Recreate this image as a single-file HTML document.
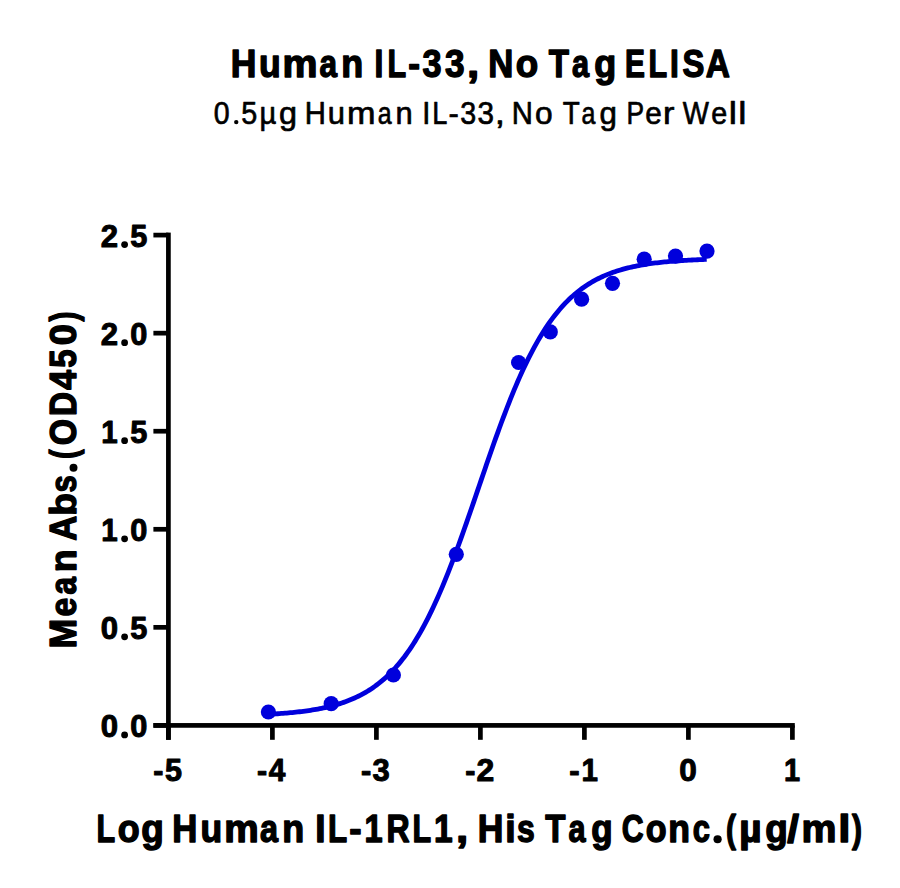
<!DOCTYPE html>
<html><head><meta charset="utf-8"><style>
html,body{margin:0;padding:0;background:#fff;}
svg{display:block;}
text{font-family:"Liberation Sans",sans-serif;fill:#000;}
.b{font-weight:bold;stroke:#000;stroke-linejoin:round;}
.r{stroke:#000;stroke-linejoin:round;}
</style></head><body>
<svg width="900" height="888" viewBox="0 0 900 888">
<rect width="900" height="888" fill="#fff"/>
<text x="230.81" y="77" font-size="38.3" stroke-width="1.4" textLength="25.68" lengthAdjust="spacingAndGlyphs" class="b">H</text>
<text x="258.94" y="77" font-size="38.3" stroke-width="1.4" textLength="21.69" lengthAdjust="spacingAndGlyphs" class="b">u</text>
<text x="282.64" y="77" font-size="38.3" stroke-width="1.4" textLength="35.0" lengthAdjust="spacingAndGlyphs" class="b">m</text>
<text x="319.61" y="77" font-size="38.3" stroke-width="1.4" textLength="17.52" lengthAdjust="spacingAndGlyphs" class="b">a</text>
<text x="341.3" y="77" font-size="38.3" stroke-width="1.4" textLength="21.96" lengthAdjust="spacingAndGlyphs" class="b">n</text>
<text x="374.49" y="77" font-size="38.3" stroke-width="1.4" textLength="8.81" lengthAdjust="spacingAndGlyphs" class="b">I</text>
<text x="387.55" y="77" font-size="38.3" stroke-width="1.4" textLength="18.67" lengthAdjust="spacingAndGlyphs" class="b">L</text>
<text x="408.29" y="77" font-size="38.3" stroke-width="1.4" textLength="11.79" lengthAdjust="spacingAndGlyphs" class="b">-</text>
<text x="422.53" y="77" font-size="38.3" stroke-width="1.4" textLength="19.05" lengthAdjust="spacingAndGlyphs" class="b">3</text>
<text x="445.03" y="77" font-size="38.3" stroke-width="1.4" textLength="19.56" lengthAdjust="spacingAndGlyphs" class="b">3</text>
<text x="466.95" y="77" font-size="38.3" stroke-width="1.4" textLength="12.24" lengthAdjust="spacingAndGlyphs" class="b">,</text>
<text x="488.35" y="77" font-size="38.3" stroke-width="1.4" textLength="25.11" lengthAdjust="spacingAndGlyphs" class="b">N</text>
<text x="515.74" y="77" font-size="38.3" stroke-width="1.4" textLength="22.47" lengthAdjust="spacingAndGlyphs" class="b">o</text>
<text x="548.72" y="77" font-size="38.3" stroke-width="1.4" textLength="20.23" lengthAdjust="spacingAndGlyphs" class="b">T</text>
<text x="572.12" y="77" font-size="38.3" stroke-width="1.4" textLength="17.04" lengthAdjust="spacingAndGlyphs" class="b">a</text>
<text x="594.22" y="77" font-size="38.3" stroke-width="1.4" textLength="21.96" lengthAdjust="spacingAndGlyphs" class="b">g</text>
<text x="625.01" y="77" font-size="38.3" stroke-width="1.4" textLength="19.93" lengthAdjust="spacingAndGlyphs" class="b">E</text>
<text x="648.55" y="77" font-size="38.3" stroke-width="1.4" textLength="18.67" lengthAdjust="spacingAndGlyphs" class="b">L</text>
<text x="669.99" y="77" font-size="38.3" stroke-width="1.4" textLength="8.81" lengthAdjust="spacingAndGlyphs" class="b">I</text>
<text x="682.55" y="77" font-size="38.3" stroke-width="1.4" textLength="21.87" lengthAdjust="spacingAndGlyphs" class="b">S</text>
<text x="705.63" y="77" font-size="38.3" stroke-width="1.4" textLength="24.17" lengthAdjust="spacingAndGlyphs" class="b">A</text>
<text x="213.76" y="124" font-size="32" stroke-width="0.7" textLength="15.84" lengthAdjust="spacingAndGlyphs" class="r">0</text>
<text x="241.16" y="124" font-size="32" stroke-width="0.7" textLength="15.99" lengthAdjust="spacingAndGlyphs" class="r">5</text>
<text x="259.38" y="124" font-size="32" stroke-width="0.7" textLength="16.81" lengthAdjust="spacingAndGlyphs" class="r">µ</text>
<text x="279.09" y="124" font-size="32" stroke-width="0.7" textLength="17.98" lengthAdjust="spacingAndGlyphs" class="r">g</text>
<text x="304.7" y="124" font-size="32" stroke-width="0.7" textLength="21.12" lengthAdjust="spacingAndGlyphs" class="r">H</text>
<text x="327.87" y="124" font-size="32" stroke-width="0.7" textLength="17.21" lengthAdjust="spacingAndGlyphs" class="r">u</text>
<text x="347.13" y="124" font-size="32" stroke-width="0.7" textLength="28.51" lengthAdjust="spacingAndGlyphs" class="r">m</text>
<text x="377.76" y="124" font-size="32" stroke-width="0.7" textLength="13.88" lengthAdjust="spacingAndGlyphs" class="r">a</text>
<text x="395.51" y="124" font-size="32" stroke-width="0.7" textLength="17.19" lengthAdjust="spacingAndGlyphs" class="r">n</text>
<text x="422.13" y="124" font-size="32" stroke-width="0.7" textLength="8.13" lengthAdjust="spacingAndGlyphs" class="r">I</text>
<text x="432.33" y="124" font-size="32" stroke-width="0.7" textLength="15.12" lengthAdjust="spacingAndGlyphs" class="r">L</text>
<text x="448.62" y="124" font-size="32" stroke-width="0.7" textLength="10.31" lengthAdjust="spacingAndGlyphs" class="r">-</text>
<text x="460.34" y="124" font-size="32" stroke-width="0.7" textLength="15.92" lengthAdjust="spacingAndGlyphs" class="r">3</text>
<text x="477.52" y="124" font-size="32" stroke-width="0.7" textLength="16.47" lengthAdjust="spacingAndGlyphs" class="r">3</text>
<text x="494.68" y="124" font-size="32" stroke-width="0.7" textLength="10.22" lengthAdjust="spacingAndGlyphs" class="r">,</text>
<text x="511.7" y="124" font-size="32" stroke-width="0.7" textLength="21.12" lengthAdjust="spacingAndGlyphs" class="r">N</text>
<text x="535.11" y="124" font-size="32" stroke-width="0.7" textLength="17.6" lengthAdjust="spacingAndGlyphs" class="r">o</text>
<text x="562.67" y="124" font-size="32" stroke-width="0.7" textLength="17.02" lengthAdjust="spacingAndGlyphs" class="r">T</text>
<text x="581.51" y="124" font-size="32" stroke-width="0.7" textLength="13.88" lengthAdjust="spacingAndGlyphs" class="r">a</text>
<text x="599.62" y="124" font-size="32" stroke-width="0.7" textLength="17.4" lengthAdjust="spacingAndGlyphs" class="r">g</text>
<text x="626.38" y="124" font-size="32" stroke-width="0.7" textLength="17.59" lengthAdjust="spacingAndGlyphs" class="r">P</text>
<text x="645.16" y="124" font-size="32" stroke-width="0.7" textLength="16.53" lengthAdjust="spacingAndGlyphs" class="r">e</text>
<text x="663.14" y="124" font-size="32" stroke-width="0.7" textLength="11.43" lengthAdjust="spacingAndGlyphs" class="r">r</text>
<text x="682.65" y="124" font-size="32" stroke-width="0.7" textLength="26.15" lengthAdjust="spacingAndGlyphs" class="r">W</text>
<text x="711.19" y="124" font-size="32" stroke-width="0.7" textLength="15.98" lengthAdjust="spacingAndGlyphs" class="r">e</text>
<text x="728.76" y="124" font-size="32" stroke-width="0.7" textLength="8.18" lengthAdjust="spacingAndGlyphs" class="r">l</text>
<text x="738.16" y="124" font-size="32" stroke-width="0.7" textLength="8.18" lengthAdjust="spacingAndGlyphs" class="r">l</text>
<g fill="#000">
<rect x="166.05" y="232.6" width="4.7" height="507.20"/>
<rect x="153.4" y="723.05" width="641.40" height="4.7"/>
<rect x="153.4" y="723.05" width="15.00" height="4.7"/>
<rect x="153.4" y="624.99" width="15.00" height="4.7"/>
<rect x="153.4" y="526.93" width="15.00" height="4.7"/>
<rect x="153.4" y="428.87" width="15.00" height="4.7"/>
<rect x="153.4" y="330.81" width="15.00" height="4.7"/>
<rect x="153.4" y="232.75" width="15.00" height="4.7"/>
<rect x="166.05" y="725.4" width="4.7" height="14.40"/>
<rect x="270.05" y="725.4" width="4.7" height="14.40"/>
<rect x="374.05" y="725.4" width="4.7" height="14.40"/>
<rect x="478.05" y="725.4" width="4.7" height="14.40"/>
<rect x="582.05" y="725.4" width="4.7" height="14.40"/>
<rect x="686.05" y="725.4" width="4.7" height="14.40"/>
<rect x="790.05" y="725.4" width="4.7" height="14.40"/>
<circle cx="73.5" cy="467.75" r="4"/><circle cx="717.6" cy="839.25" r="4.1"/><circle cx="236.25" cy="122.1" r="2.2"/>
</g>
<text x="100.81" y="737.00" font-size="31.5" stroke-width="1.0" textLength="17.31" lengthAdjust="spacingAndGlyphs" class="b">0</text>
<circle cx="124.6" cy="734.90" r="3.4"/>
<text x="130.33" y="737.00" font-size="31.5" stroke-width="1.0" textLength="17.09" lengthAdjust="spacingAndGlyphs" class="b">0</text>
<text x="100.81" y="639.00" font-size="31.5" stroke-width="1.0" textLength="17.31" lengthAdjust="spacingAndGlyphs" class="b">0</text>
<circle cx="124.6" cy="636.84" r="3.4"/>
<text x="130.33" y="639.00" font-size="31.5" stroke-width="1.0" textLength="17.09" lengthAdjust="spacingAndGlyphs" class="b">5</text>
<text x="101.16" y="541.00" font-size="31.5" stroke-width="1.0" textLength="16.44" lengthAdjust="spacingAndGlyphs" class="b">1</text>
<circle cx="124.6" cy="538.78" r="3.4"/>
<text x="130.33" y="541.00" font-size="31.5" stroke-width="1.0" textLength="17.09" lengthAdjust="spacingAndGlyphs" class="b">0</text>
<text x="101.16" y="443.00" font-size="31.5" stroke-width="1.0" textLength="16.44" lengthAdjust="spacingAndGlyphs" class="b">1</text>
<circle cx="124.6" cy="440.72" r="3.4"/>
<text x="130.33" y="443.00" font-size="31.5" stroke-width="1.0" textLength="17.09" lengthAdjust="spacingAndGlyphs" class="b">5</text>
<text x="100.81" y="345.00" font-size="31.5" stroke-width="1.0" textLength="17.31" lengthAdjust="spacingAndGlyphs" class="b">2</text>
<circle cx="124.6" cy="342.66" r="3.4"/>
<text x="130.33" y="345.00" font-size="31.5" stroke-width="1.0" textLength="17.09" lengthAdjust="spacingAndGlyphs" class="b">0</text>
<text x="100.81" y="247.00" font-size="31.5" stroke-width="1.0" textLength="17.31" lengthAdjust="spacingAndGlyphs" class="b">2</text>
<circle cx="124.6" cy="244.60" r="3.4"/>
<text x="130.33" y="247.00" font-size="31.5" stroke-width="1.0" textLength="17.09" lengthAdjust="spacingAndGlyphs" class="b">5</text>
<text x="153.23" y="781" font-size="31.5" stroke-width="1.0" textLength="10.15" lengthAdjust="spacingAndGlyphs" class="b">-</text>
<text x="165.03" y="781" font-size="31.5" stroke-width="1.0" textLength="16.98" lengthAdjust="spacingAndGlyphs" class="b">5</text>
<text x="257.03" y="781" font-size="31.5" stroke-width="1.0" textLength="10.15" lengthAdjust="spacingAndGlyphs" class="b">-</text>
<text x="268.7" y="781" font-size="31.5" stroke-width="1.0" textLength="16.65" lengthAdjust="spacingAndGlyphs" class="b">4</text>
<text x="361.02" y="781" font-size="31.5" stroke-width="1.0" textLength="10.27" lengthAdjust="spacingAndGlyphs" class="b">-</text>
<text x="372.5" y="781" font-size="31.5" stroke-width="1.0" textLength="17.22" lengthAdjust="spacingAndGlyphs" class="b">3</text>
<text x="465.33" y="781" font-size="31.5" stroke-width="1.0" textLength="10.15" lengthAdjust="spacingAndGlyphs" class="b">-</text>
<text x="476.49" y="781" font-size="31.5" stroke-width="1.0" textLength="17.75" lengthAdjust="spacingAndGlyphs" class="b">2</text>
<text x="569.31" y="781" font-size="31.5" stroke-width="1.0" textLength="10.38" lengthAdjust="spacingAndGlyphs" class="b">-</text>
<text x="581.56" y="781" font-size="31.5" stroke-width="1.0" textLength="16.44" lengthAdjust="spacingAndGlyphs" class="b">1</text>
<text x="679.3" y="781" font-size="31.5" stroke-width="1.0" textLength="17.53" lengthAdjust="spacingAndGlyphs" class="b">0</text>
<text x="784.08" y="781" font-size="31.5" stroke-width="1.0" textLength="16.11" lengthAdjust="spacingAndGlyphs" class="b">1</text>
<text x="96.55" y="842.0" font-size="38.3" stroke-width="1.4" textLength="18.67" lengthAdjust="spacingAndGlyphs" class="b">L</text>
<text x="117.76" y="842.0" font-size="38.3" stroke-width="1.4" textLength="21.94" lengthAdjust="spacingAndGlyphs" class="b">o</text>
<text x="141.2" y="842.0" font-size="38.3" stroke-width="1.4" textLength="22.53" lengthAdjust="spacingAndGlyphs" class="b">g</text>
<text x="172.35" y="842.0" font-size="38.3" stroke-width="1.4" textLength="25.11" lengthAdjust="spacingAndGlyphs" class="b">H</text>
<text x="200.44" y="842.0" font-size="38.3" stroke-width="1.4" textLength="21.69" lengthAdjust="spacingAndGlyphs" class="b">u</text>
<text x="224.17" y="842.0" font-size="38.3" stroke-width="1.4" textLength="34.45" lengthAdjust="spacingAndGlyphs" class="b">m</text>
<text x="260.1" y="842.0" font-size="38.3" stroke-width="1.4" textLength="18.01" lengthAdjust="spacingAndGlyphs" class="b">a</text>
<text x="282.3" y="842.0" font-size="38.3" stroke-width="1.4" textLength="21.96" lengthAdjust="spacingAndGlyphs" class="b">n</text>
<text x="315.24" y="842.0" font-size="38.3" stroke-width="1.4" textLength="10.28" lengthAdjust="spacingAndGlyphs" class="b">I</text>
<text x="328.0" y="842.0" font-size="38.3" stroke-width="1.4" textLength="19.21" lengthAdjust="spacingAndGlyphs" class="b">L</text>
<text x="349.26" y="842.0" font-size="38.3" stroke-width="1.4" textLength="12.35" lengthAdjust="spacingAndGlyphs" class="b">-</text>
<text x="364.55" y="842.0" font-size="38.3" stroke-width="1.4" textLength="18.1" lengthAdjust="spacingAndGlyphs" class="b">1</text>
<text x="386.47" y="842.0" font-size="38.3" stroke-width="1.4" textLength="23.16" lengthAdjust="spacingAndGlyphs" class="b">R</text>
<text x="412.55" y="842.0" font-size="38.3" stroke-width="1.4" textLength="18.67" lengthAdjust="spacingAndGlyphs" class="b">L</text>
<text x="434.0" y="842.0" font-size="38.3" stroke-width="1.4" textLength="18.65" lengthAdjust="spacingAndGlyphs" class="b">1</text>
<text x="455.95" y="842.0" font-size="38.3" stroke-width="1.4" textLength="12.24" lengthAdjust="spacingAndGlyphs" class="b">,</text>
<text x="477.81" y="842.0" font-size="38.3" stroke-width="1.4" textLength="25.68" lengthAdjust="spacingAndGlyphs" class="b">H</text>
<text x="505.16" y="842.0" font-size="38.3" stroke-width="1.4" textLength="10.42" lengthAdjust="spacingAndGlyphs" class="b">i</text>
<text x="516.92" y="842.0" font-size="38.3" stroke-width="1.4" textLength="17.75" lengthAdjust="spacingAndGlyphs" class="b">s</text>
<text x="545.22" y="842.0" font-size="38.3" stroke-width="1.4" textLength="20.23" lengthAdjust="spacingAndGlyphs" class="b">T</text>
<text x="568.62" y="842.0" font-size="38.3" stroke-width="1.4" textLength="17.04" lengthAdjust="spacingAndGlyphs" class="b">a</text>
<text x="591.24" y="842.0" font-size="38.3" stroke-width="1.4" textLength="21.4" lengthAdjust="spacingAndGlyphs" class="b">g</text>
<text x="621.85" y="842.0" font-size="38.3" stroke-width="1.4" textLength="21.89" lengthAdjust="spacingAndGlyphs" class="b">C</text>
<text x="645.8" y="842.0" font-size="38.3" stroke-width="1.4" textLength="20.87" lengthAdjust="spacingAndGlyphs" class="b">o</text>
<text x="668.32" y="842.0" font-size="38.3" stroke-width="1.4" textLength="21.73" lengthAdjust="spacingAndGlyphs" class="b">n</text>
<text x="692.66" y="842.0" font-size="38.3" stroke-width="1.4" textLength="17.24" lengthAdjust="spacingAndGlyphs" class="b">c</text>
<text x="725.9" y="842.0" font-size="38.3" stroke-width="1.4" textLength="9.96" lengthAdjust="spacingAndGlyphs" class="b">(</text>
<text x="739.21" y="842.0" font-size="38.3" stroke-width="1.4" textLength="22.36" lengthAdjust="spacingAndGlyphs" class="b">µ</text>
<text x="765.2" y="842.0" font-size="38.3" stroke-width="1.4" textLength="22.53" lengthAdjust="spacingAndGlyphs" class="b">g</text>
<text x="787.29" y="842.0" font-size="38.3" stroke-width="1.4" textLength="11.69" lengthAdjust="spacingAndGlyphs" class="b">/</text>
<text x="801.64" y="842.0" font-size="38.3" stroke-width="1.4" textLength="35.0" lengthAdjust="spacingAndGlyphs" class="b">m</text>
<text x="838.23" y="842.0" font-size="38.3" stroke-width="1.4" textLength="12.24" lengthAdjust="spacingAndGlyphs" class="b">l</text>
<text x="851.9" y="842.0" font-size="38.3" stroke-width="1.4" textLength="9.99" lengthAdjust="spacingAndGlyphs" class="b">)</text>
<text transform="translate(76.2,0) rotate(-90)" x="-648.4" y="0" font-size="37.2" stroke-width="1.4" textLength="29.7" lengthAdjust="spacingAndGlyphs" class="b">M</text>
<text transform="translate(76.2,0) rotate(-90)" x="-616.4" y="0" font-size="37.2" stroke-width="1.4" textLength="18.82" lengthAdjust="spacingAndGlyphs" class="b">e</text>
<text transform="translate(76.2,0) rotate(-90)" x="-594.38" y="0" font-size="37.2" stroke-width="1.4" textLength="17.54" lengthAdjust="spacingAndGlyphs" class="b">a</text>
<text transform="translate(76.2,0) rotate(-90)" x="-572.38" y="0" font-size="37.2" stroke-width="1.4" textLength="22.86" lengthAdjust="spacingAndGlyphs" class="b">n</text>
<text transform="translate(76.2,0) rotate(-90)" x="-540.76" y="0" font-size="37.2" stroke-width="1.4" textLength="24.97" lengthAdjust="spacingAndGlyphs" class="b">A</text>
<text transform="translate(76.2,0) rotate(-90)" x="-515.86" y="0" font-size="37.2" stroke-width="1.4" textLength="22.66" lengthAdjust="spacingAndGlyphs" class="b">b</text>
<text transform="translate(76.2,0) rotate(-90)" x="-492.39" y="0" font-size="37.2" stroke-width="1.4" textLength="17.31" lengthAdjust="spacingAndGlyphs" class="b">s</text>
<text transform="translate(76.2,0) rotate(-90)" x="-458.94" y="0" font-size="37.2" stroke-width="1.4" textLength="9.66" lengthAdjust="spacingAndGlyphs" class="b">(</text>
<text transform="translate(76.2,0) rotate(-90)" x="-445.13" y="0" font-size="37.2" stroke-width="1.4" textLength="26.31" lengthAdjust="spacingAndGlyphs" class="b">O</text>
<text transform="translate(76.2,0) rotate(-90)" x="-416.08" y="0" font-size="37.2" stroke-width="1.4" textLength="24.02" lengthAdjust="spacingAndGlyphs" class="b">D</text>
<text transform="translate(76.2,0) rotate(-90)" x="-389.83" y="0" font-size="37.2" stroke-width="1.4" textLength="19.83" lengthAdjust="spacingAndGlyphs" class="b">4</text>
<text transform="translate(76.2,0) rotate(-90)" x="-367.86" y="0" font-size="37.2" stroke-width="1.4" textLength="18.4" lengthAdjust="spacingAndGlyphs" class="b">5</text>
<text transform="translate(76.2,0) rotate(-90)" x="-345.38" y="0" font-size="37.2" stroke-width="1.4" textLength="21.18" lengthAdjust="spacingAndGlyphs" class="b">0</text>
<text transform="translate(76.2,0) rotate(-90)" x="-321.39" y="0" font-size="37.2" stroke-width="1.4" textLength="10.04" lengthAdjust="spacingAndGlyphs" class="b">)</text>
<polyline points="268.41,714.29 270.24,714.19 272.07,714.09 273.91,713.98 275.74,713.86 277.58,713.74 279.41,713.61 281.24,713.48 283.08,713.34 284.91,713.20 286.75,713.04 288.58,712.88 290.41,712.72 292.25,712.54 294.08,712.36 295.92,712.17 297.75,711.96 299.58,711.75 301.42,711.53 303.25,711.30 305.08,711.06 306.92,710.81 308.75,710.54 310.59,710.26 312.42,709.97 314.25,709.67 316.09,709.35 317.92,709.02 319.76,708.67 321.59,708.31 323.42,707.92 325.26,707.53 327.09,707.11 328.93,706.67 330.76,706.21 332.59,705.74 334.43,705.24 336.26,704.71 338.10,704.17 339.93,703.60 341.76,703.00 343.60,702.38 345.43,701.73 347.27,701.04 349.10,700.33 350.93,699.59 352.77,698.81 354.60,698.00 356.43,697.16 358.27,696.27 360.10,695.35 361.94,694.39 363.77,693.39 365.60,692.34 367.44,691.25 369.27,690.11 371.11,688.92 372.94,687.68 374.77,686.40 376.61,685.05 378.44,683.66 380.28,682.20 382.11,680.69 383.94,679.11 385.78,677.47 387.61,675.77 389.45,674.00 391.28,672.16 393.11,670.25 394.95,668.26 396.78,666.21 398.62,664.07 400.45,661.86 402.28,659.56 404.12,657.19 405.95,654.72 407.78,652.18 409.62,649.54 411.45,646.82 413.29,644.01 415.12,641.10 416.95,638.10 418.79,635.01 420.62,631.82 422.46,628.54 424.29,625.16 426.12,621.68 427.96,618.11 429.79,614.44 431.63,610.67 433.46,606.81 435.29,602.85 437.13,598.80 438.96,594.65 440.80,590.41 442.63,586.08 444.46,581.66 446.30,577.16 448.13,572.57 449.96,567.90 451.80,563.15 453.63,558.33 455.47,553.44 457.30,548.48 459.13,543.46 460.97,538.38 462.80,533.25 464.64,528.06 466.47,522.84 468.30,517.58 470.14,512.28 471.97,506.96 473.81,501.61 475.64,496.25 477.47,490.88 479.31,485.51 481.14,480.13 482.98,474.77 484.81,469.42 486.64,464.09 488.48,458.78 490.31,453.50 492.15,448.26 493.98,443.07 495.81,437.92 497.65,432.82 499.48,427.77 501.31,422.79 503.15,417.87 504.98,413.03 506.82,408.25 508.65,403.56 510.48,398.94 512.32,394.40 514.15,389.95 515.99,385.59 517.82,381.32 519.65,377.14 521.49,373.05 523.32,369.05 525.16,365.16 526.99,361.35 528.82,357.65 530.66,354.04 532.49,350.53 534.33,347.12 536.16,343.80 537.99,340.58 539.83,337.45 541.66,334.42 543.50,331.48 545.33,328.63 547.16,325.88 549.00,323.21 550.83,320.63 552.66,318.14 554.50,315.73 556.33,313.41 558.17,311.17 560.00,309.00 561.83,306.92 563.67,304.91 565.50,302.97 567.34,301.10 569.17,299.31 571.00,297.58 572.84,295.92 574.67,294.32 576.51,292.78 578.34,291.31 580.17,289.89 582.01,288.53 583.84,287.22 585.68,285.97 587.51,284.76 589.34,283.60 591.18,282.50 593.01,281.43 594.84,280.41 596.68,279.44 598.51,278.50 600.35,277.60 602.18,276.74 604.01,275.92 605.85,275.13 607.68,274.38 609.52,273.65 611.35,272.96 613.18,272.30 615.02,271.67 616.85,271.06 618.69,270.48 620.52,269.92 622.35,269.39 624.19,268.89 626.02,268.40 627.86,267.94 629.69,267.49 631.52,267.07 633.36,266.66 635.19,266.28 637.03,265.90 638.86,265.55 640.69,265.21 642.53,264.89 644.36,264.58 646.19,264.28 648.03,264.00 649.86,263.73 651.70,263.48 653.53,263.23 655.36,262.99 657.20,262.77 659.03,262.56 660.87,262.35 662.70,262.16 664.53,261.97 666.37,261.79 668.20,261.62 670.04,261.46 671.87,261.30 673.70,261.15 675.54,261.01 677.37,260.88 679.21,260.75 681.04,260.63 682.87,260.51 684.71,260.40 686.54,260.29 688.38,260.19 690.21,260.09 692.04,260.00 693.88,259.91 695.71,259.82 697.54,259.74 699.38,259.66 701.21,259.59 703.05,259.52 704.88,259.45 706.71,259.39" fill="none" stroke="#0000DC" stroke-width="4.8"/>
<g fill="#0000DC">
<circle cx="707" cy="251.1" r="7.6"/>
<circle cx="675.5" cy="256.1" r="7.6"/>
<circle cx="644.2" cy="259.2" r="7.6"/>
<circle cx="612.5" cy="283.3" r="7.6"/>
<circle cx="581.6" cy="299.2" r="7.6"/>
<circle cx="550.3" cy="331.9" r="7.6"/>
<circle cx="518.6" cy="362.5" r="7.6"/>
<circle cx="456.3" cy="554.3" r="7.6"/>
<circle cx="393.4" cy="675" r="7.6"/>
<circle cx="331.2" cy="703.7" r="7.6"/>
<circle cx="268.4" cy="712" r="7.6"/>
</g>
</svg>
</body></html>
